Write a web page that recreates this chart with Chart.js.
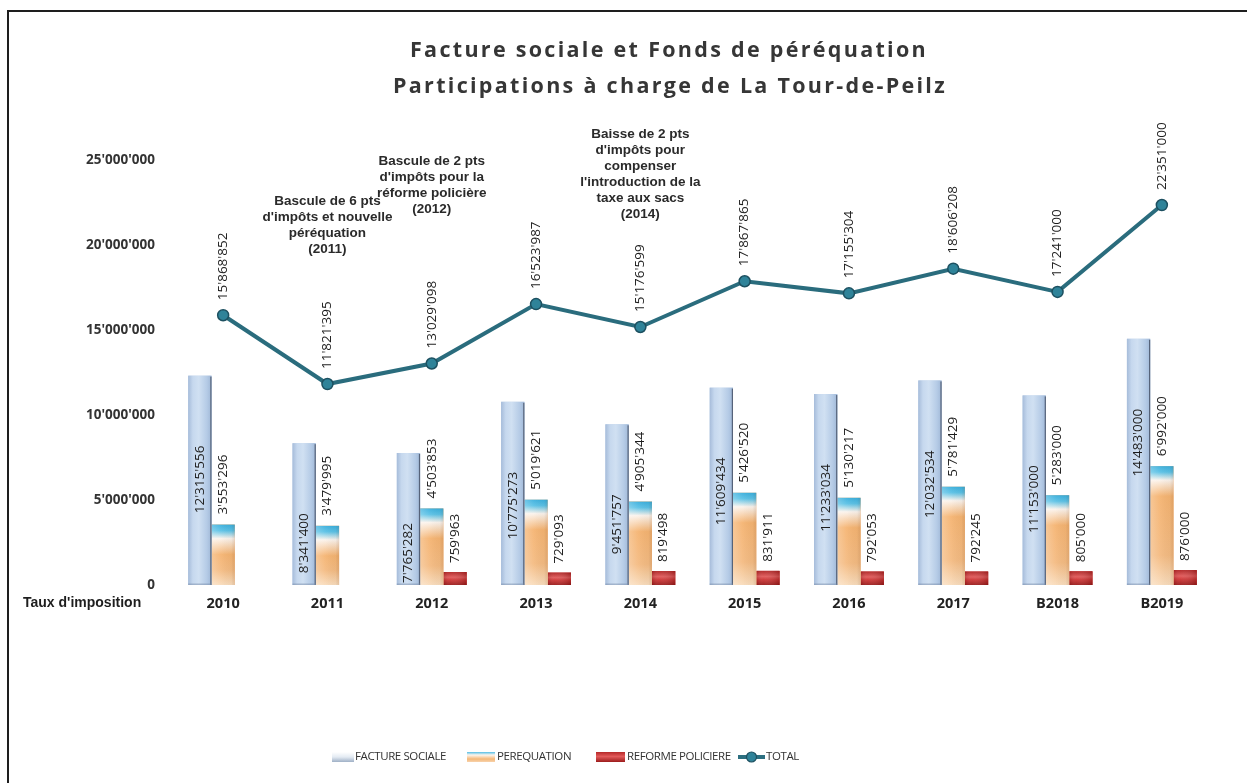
<!DOCTYPE html>
<html><head><meta charset="utf-8">
<script src="https://cdn.jsdelivr.net/npm/chart.js@4.4.1/dist/chart.umd.min.js"></script>
<style>html,body{margin:0;padding:0;background:#fff;}canvas{display:block}</style>
</head><body><canvas id="c" width="1247" height="783"></canvas>
<script>
const categories = ['2010','2011','2012','2013','2014','2015','2016','2017','B2018','B2019'];
const factureSociale = [12315556, 8341400, 7765282, 10775273, 9451757, 11609434, 11233034, 12032534, 11153000, 14483000];
const perequation = [3553296, 3479995, 4503853, 5019621, 4905344, 5426520, 5130217, 5781429, 5283000, 6992000];
const reformePoliciere = [null, null, 759963, 729093, 819498, 831911, 792053, 792245, 805000, 876000];
const total = [15868852, 11821395, 13029098, 16523987, 15176599, 17867865, 17155304, 18606208, 17241000, 22351000];
const yTicks = [0, 5000000, 10000000, 15000000, 20000000, 25000000];
const seriesNames = ['FACTURE SOCIALE', 'PEREQUATION', 'REFORME POLICIERE', 'TOTAL'];
const titleLines = ['Facture sociale et Fonds de péréquation', 'Participations à charge de La Tour-de-Peilz'];
const rowLabel = "Taux d'imposition";
const noteCategories = ['2011', '2012', '2014'];
const noteTexts = [
  ['Bascule de 6 pts', "d'impôts et nouvelle", 'péréquation', '(2011)'],
  ['Bascule de 2 pts', "d'impôts pour la", 'réforme policière', '(2012)'],
  ['Baisse de 2 pts', "d'impôts pour", 'compenser', "l'introduction de la", 'taxe aux sacs', '(2014)']
];

const fmt = v => String(Math.round(v)).replace(/\B(?=(\d{3})+(?!\d))/g, "'");
const noteTop = {'2011': 201, '2012': 161, '2014': 134};

function rotText(ctx, txt, x, y, align) {
  ctx.save();
  ctx.translate(x, y);
  ctx.rotate(-Math.PI / 2);
  ctx.textAlign = align;
  ctx.textBaseline = 'middle';
  ctx.fillText(txt, 0, 0);
  ctx.restore();
}

const decor = {
  id: 'decor',
  beforeDraw(chart) {
    const ctx = chart.ctx;
    ctx.save();
    ctx.fillStyle = '#fff';
    ctx.fillRect(0, 0, chart.width, chart.height);
    ctx.fillStyle = '#1e1e1e';
    ctx.fillRect(7, 10, chart.width - 7, 2);
    ctx.fillRect(7, 10, 2, chart.height - 10);
    // title
    ctx.fillStyle = '#363636';
    ctx.textAlign = 'center';
    ctx.textBaseline = 'middle';
    ctx.font = 'bold 21.5px "Open Sans"';
    ctx.letterSpacing = '2.3px';
    ctx.fillText(titleLines[0], 669, 51);
    ctx.fillText(titleLines[1], 670, 87);
    ctx.letterSpacing = '0px';
    ctx.restore();
  },
  afterDatasetDraw(chart, args) {
    const meta = args.meta;
    if (meta.type !== 'bar') return;
    const ctx = chart.ctx;
    const idx = args.index;
    ctx.save();
    meta.data.forEach((el, i) => {
      const raw = chart.data.datasets[idx].data[i];
      if (raw === null || raw === undefined) return;
      const p = el.getProps(['x', 'y', 'base', 'width'], true);
      const l = p.x - p.width / 2, r = p.x + p.width / 2, t = p.y, b = p.base, h = b - t, w = p.width;
      let g;
      if (idx === 1) {
        g = ctx.createLinearGradient(l, 0, r, 0);
        g.addColorStop(0, '#a6bcda');
        g.addColorStop(0.2, '#c6d8ee');
        g.addColorStop(0.45, '#d0e0f2');
        g.addColorStop(0.8, '#b5cbe6');
        g.addColorStop(1, '#a0b8d7');
        ctx.fillStyle = g;
        ctx.fillRect(l, t, w, h);
        ctx.fillStyle = 'rgba(60,70,90,0.75)';
        ctx.fillRect(r - 1.2, t + 1, 1.2, h - 1);
        ctx.fillStyle = 'rgba(120,140,170,0.5)';
        ctx.fillRect(l, b - 1.5, w, 1.5);
      } else if (idx === 2) {
        g = ctx.createLinearGradient(0, t, 0, b);
        g.addColorStop(0, '#3cb0dd');
        g.addColorStop(Math.min(6 / h, 0.2), '#5cc2e6');
        g.addColorStop(Math.min(14 / h, 0.3), '#fbf3ec');
        g.addColorStop(Math.min(30 / h, 0.55), '#f5b472');
        g.addColorStop(0.75, '#f4bb82');
        g.addColorStop(1, '#f9dcbc');
        ctx.fillStyle = g;
        ctx.fillRect(l, t, w, h);
        g = ctx.createLinearGradient(l, 0, r, 0);
        g.addColorStop(0, 'rgba(255,255,255,0.25)');
        g.addColorStop(0.4, 'rgba(255,255,255,0.05)');
        g.addColorStop(0.85, 'rgba(0,0,0,0.03)');
        g.addColorStop(1, 'rgba(120,60,20,0.15)');
        ctx.fillStyle = g;
        ctx.fillRect(l, t, w, h);
      } else if (idx === 3) {
        g = ctx.createLinearGradient(0, t, 0, b);
        g.addColorStop(0, '#b02323');
        g.addColorStop(0.4, '#e05858');
        g.addColorStop(0.6, '#cf3636');
        g.addColorStop(1, '#9a1a1a');
        ctx.fillStyle = g;
        ctx.fillRect(l, t, w, h);
        g = ctx.createLinearGradient(l, 0, r, 0);
        g.addColorStop(0, 'rgba(80,0,0,0.2)');
        g.addColorStop(0.3, 'rgba(255,255,255,0.05)');
        g.addColorStop(1, 'rgba(80,0,0,0.25)');
        ctx.fillStyle = g;
        ctx.fillRect(l, t, w, h);
      }
    });
    ctx.restore();
  },
  afterDatasetsDraw(chart) {
    const ctx = chart.ctx;
    ctx.save();
    ctx.fillStyle = '#1c1c1c';
    ctx.font = '13.5px "Open Sans"';
    const fsMeta = chart.getDatasetMeta(1), peMeta = chart.getDatasetMeta(2), rpMeta = chart.getDatasetMeta(3), tMeta = chart.getDatasetMeta(0);
    factureSociale.forEach((v, i) => {
      const el = fsMeta.data[i];
      rotText(ctx, fmt(v), el.x, el.y + 70, 'right');
    });
    perequation.forEach((v, i) => {
      const el = peMeta.data[i];
      rotText(ctx, fmt(v), el.x, el.y - 10, 'left');
    });
    reformePoliciere.forEach((v, i) => {
      if (v === null) return;
      const el = rpMeta.data[i];
      rotText(ctx, fmt(v), el.x, el.y - 9, 'left');
    });
    total.forEach((v, i) => {
      const el = tMeta.data[i];
      rotText(ctx, fmt(v), el.x, el.y - 15, 'left');
    });
    // annotations
    ctx.fillStyle = '#2a2a2a';
    ctx.font = 'bold 13.5px "Liberation Sans", Arial, sans-serif';
    ctx.textAlign = 'center';
    ctx.textBaseline = 'middle';
    const xs = chart.scales.x;
    noteCategories.forEach((c, k) => {
      const x = xs.getPixelForValue(categories.indexOf(c));
      noteTexts[k].forEach((line, j) => ctx.fillText(line, x, noteTop[c] + j * 16));
    });
    // row label
    ctx.textAlign = 'left';
    ctx.fillStyle = '#1e1e1e';
    ctx.font = 'bold 14px "Liberation Sans", Arial, sans-serif';
    ctx.fillText(rowLabel, 23, 603);
    // legend
    const ly = 757;
    ctx.font = '11.5px "Open Sans"';
    ctx.letterSpacing = '-0.4px';
    let g = ctx.createLinearGradient(0, ly - 5, 0, ly + 5);
    g.addColorStop(0, '#ffffff'); g.addColorStop(0.5, '#e4ebf3'); g.addColorStop(1, '#9fb0c6');
    ctx.fillStyle = g; ctx.fillRect(332, ly - 5, 22, 10);
    g = ctx.createLinearGradient(0, ly - 5, 0, ly + 5);
    g.addColorStop(0, '#52bde6'); g.addColorStop(0.3, '#fdf6ee'); g.addColorStop(0.7, '#f5b878'); g.addColorStop(1, '#f7d2ac');
    ctx.fillStyle = g; ctx.fillRect(467, ly - 5, 28, 10);
    g = ctx.createLinearGradient(0, ly - 5, 0, ly + 5);
    g.addColorStop(0, '#b52828'); g.addColorStop(0.45, '#e25a5a'); g.addColorStop(1, '#9c1c1c');
    ctx.fillStyle = g; ctx.fillRect(596, ly - 5, 29, 10);
    ctx.strokeStyle = '#2c6f80'; ctx.lineWidth = 4;
    ctx.beginPath(); ctx.moveTo(738, ly); ctx.lineTo(765, ly); ctx.stroke();
    ctx.fillStyle = '#2f8399'; ctx.strokeStyle = '#1d5060'; ctx.lineWidth = 1.2;
    ctx.beginPath(); ctx.arc(751.5, ly, 5, 0, Math.PI * 2); ctx.fill(); ctx.stroke();
    ctx.fillStyle = '#333';
    ctx.textAlign = 'left';
    ctx.fillText(seriesNames[0], 355, ly);
    ctx.fillText(seriesNames[1], 497, ly);
    ctx.fillText(seriesNames[2], 627, ly);
    ctx.fillText(seriesNames[3], 766, ly);
    ctx.letterSpacing = '0px';
    ctx.restore();
  }
};

new Chart(document.getElementById('c').getContext('2d'), {
  type: 'bar',
  data: {
    labels: categories,
    datasets: [
      { type: 'line', label: seriesNames[3], data: total, order: 0, borderColor: '#2a6c7d', borderWidth: 4,
        pointRadius: 5.5, pointBackgroundColor: '#2f8399', pointBorderColor: '#1d5060', pointBorderWidth: 1.5, tension: 0 },
      { label: seriesNames[0], data: factureSociale, backgroundColor: '#bcd0e8', order: 1 },
      { label: seriesNames[1], data: perequation, backgroundColor: '#f4b57a', order: 1 },
      { label: seriesNames[2], data: reformePoliciere, backgroundColor: '#c62f2c', order: 1 }
    ]
  },
  options: {
    responsive: false,
    animation: false,
    events: [],
    layout: { padding: { left: 0, right: 33, top: 160, bottom: 0 } },
    datasets: { bar: { categoryPercentage: 0.67, barPercentage: 1 } },
    plugins: { legend: { display: false }, tooltip: { enabled: false }, title: { display: false } },
    scales: {
      x: {
        grid: { display: false, drawTicks: false }, border: { display: false },
        ticks: { padding: 10, color: '#222', font: { family: '"Open Sans"', weight: 'bold', size: 14.5 } },
        afterFit(s) { s.height = 198; }
      },
      y: {
        min: 0, max: 25000000,
        grid: { display: false, drawTicks: false }, border: { display: false },
        afterBuildTicks(s) { s.ticks = yTicks.map(v => ({ value: v })); },
        ticks: { padding: 16, color: '#333', font: { family: '"Open Sans"', weight: 'bold', size: 13.5 }, callback: v => fmt(v) },
        afterFit(s) { s.width = 171; }
      }
    }
  },
  plugins: [decor]
});
</script>
</body></html>
